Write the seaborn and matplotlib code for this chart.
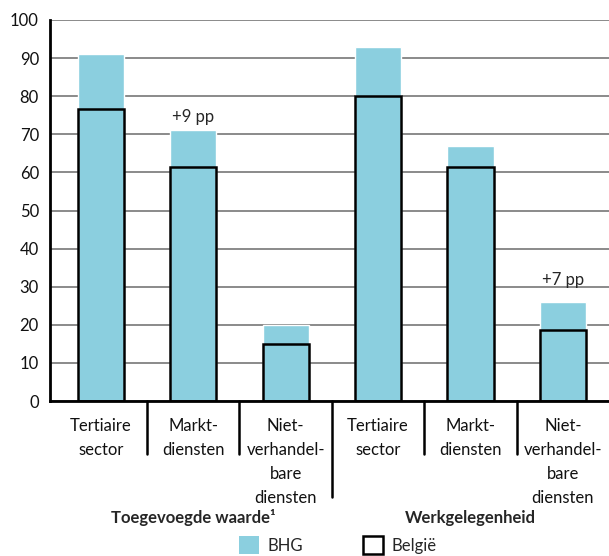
import numpy as np
import pandas as pd
import matplotlib.pyplot as plt
import seaborn as sns
from matplotlib.patches import Patch

# Data (in %)
categories = ["Tertiaire\nsector", "Markt-\ndiensten", "Niet-\nverhandel-\nbare\ndiensten",
              "Tertiaire\nsector", "Markt-\ndiensten", "Niet-\nverhandel-\nbare\ndiensten"]
groups = ["Toegevoegde waarde\u00b9", "Werkgelegenheid"]
bhg = [91, 71, 20, 93, 67, 26]
belgie = [76.7, 61.5, 15, 80, 61.5, 18.7]
note_idx = [1, 5]
note_text = ["+9 pp", "+7 pp"]
note_y = [73.2, 30.4]

blue = "#8BCFDF"

sns.set_style("white")
plt.rcParams["font.family"] = ["Lato", "DejaVu Sans"]

df = pd.DataFrame({"id": range(len(categories)), "BHG": bhg, "België": belgie})

fig = plt.figure(figsize=(6.09, 5.56), dpi=100)
ax = fig.add_axes([50 / 609, 1 - 401 / 556, 559 / 609, 381 / 556])

sns.barplot(data=df, x="id", y="BHG", color=blue, width=0.5, saturation=1, ax=ax)
sns.barplot(data=df, x="id", y="België", color=blue, width=0.5, saturation=1,
            edgecolor="black", linewidth=1.8, ax=ax)
for p in ax.patches[len(categories):]:
    p.set_facecolor("none")

ax.set_ylim(0, 100)
ax.set_xlim(-0.55, len(categories) - 0.5)
ax.set_yticks(range(0, 101, 10))
ax.yaxis.grid(True, color="#8a8a8a", linewidth=1.4)
ax.set_axisbelow(True)
ax.set_xlabel("")
ax.set_ylabel("")
ax.set_xticks(range(len(categories)))
ax.set_xticklabels(categories, linespacing=1.63)
ax.tick_params(axis="both", length=0, labelsize=12, colors="#111111")
ax.tick_params(axis="x", pad=12)
ax.tick_params(axis="y", pad=8)

for s in ["top", "right"]:
    ax.spines[s].set_visible(False)
for s in ["left", "bottom"]:
    ax.spines[s].set_color("black")
    ax.spines[s].set_linewidth(2)

# separators under the x axis
trans = ax.get_xaxis_transform()
for x in [0.5, 1.5, 3.5, 4.5]:
    ax.plot([x, x], [0, -0.139], color="black", lw=1.8, transform=trans, clip_on=False)
ax.plot([2.5, 2.5], [0, -0.252], color="black", lw=1.8, transform=trans, clip_on=False)

# group labels
ax.text(1, -0.306, groups[0], transform=trans, ha="center", va="center",
        fontsize=12, fontweight="bold")
ax.text(4, -0.306, groups[1], transform=trans, ha="center", va="center",
        fontsize=12, fontweight="bold")

for i, txt, y in zip(note_idx, note_text, note_y):
    ax.text(i, y, txt, ha="center", va="baseline", fontsize=12)

handles = [Patch(facecolor=blue, edgecolor="none", label="BHG"),
           Patch(facecolor="white", edgecolor="black", linewidth=1.8, label="België")]
fig.legend(handles=handles, loc="center", bbox_to_anchor=(0.555, 1 - 545 / 556),
           ncol=2, frameon=False, fontsize=12, handlelength=1.2, handleheight=1.2,
           columnspacing=3.6, handletextpad=0.5)

fig.savefig("out.png", dpi=100)
